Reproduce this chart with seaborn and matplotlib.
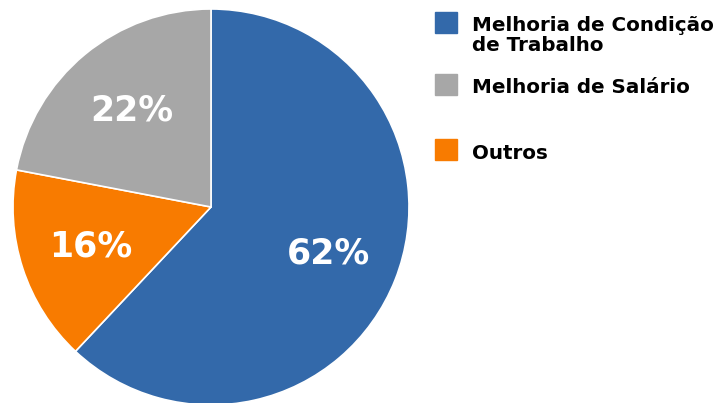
import matplotlib
matplotlib.use("Agg")
import matplotlib.pyplot as plt
import seaborn as sns
import numpy as np
from matplotlib.patches import Rectangle

categories = ["Melhoria de Condição\nde Trabalho", "Outros", "Melhoria de Salário"]
values = [62, 16, 22]
colors = ["#3369aa", "#f87b00", "#a7a7a7"]
legend_order = [0, 2, 1]

sns.set_theme(style="white")
plt.rcParams['font.family'] = ['DejaVu Sans']

fig = plt.figure(figsize=(7.2, 4.03), dpi=100)
W, H = 720, 403
cx, cy, r = 211, 403 - 207, 198
ax = fig.add_axes([(cx - r) / W, (cy - r) / H, 2 * r / W, 2 * r / H])
wedges, texts, autotexts = ax.pie(values, colors=colors, startangle=90, counterclock=False,
                                   autopct=lambda p: f"{p:.0f}%", pctdistance=0.64,
                                   wedgeprops=dict(edgecolor="white", linewidth=1.2),
                                   textprops=dict(color="white", fontsize=25, fontweight="bold"))
# shift the 22% label toward upper part of its wedge
ang = np.deg2rad(129.5)
autotexts[2].set_position((0.63 * np.cos(ang), 0.63 * np.sin(ang)))
ax.set_xlim(-1, 1)
ax.set_ylim(-1, 1)
ax.set_aspect("equal")
ax.axis("off")

# legend
sq_tops = [12, 74, 139]
baselines = [31, 93, 159]
for i, idx in enumerate(legend_order):
    fig.patches.append(Rectangle((435 / W, 1 - (sq_tops[i] + 21) / H), 22 / W, 21 / H,
                                 transform=fig.transFigure, color=colors[idx]))
    for j, line in enumerate(categories[idx].split("\n")):
        fig.text(472 / W, 1 - (baselines[i] + 20 * j) / H, line, ha="left", va="baseline",
                 fontsize=14.3, fontweight="bold", color="black")

fig.savefig("out.png", dpi=100)
